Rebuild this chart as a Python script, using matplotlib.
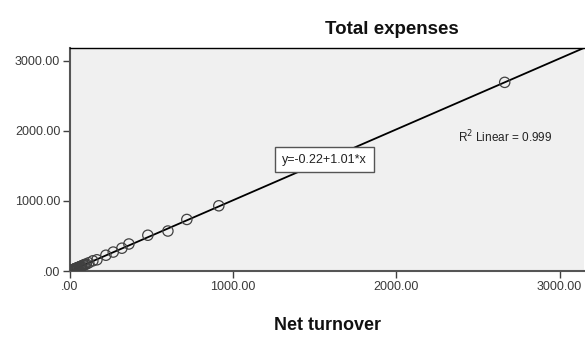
import matplotlib
matplotlib.use("Agg")
import matplotlib.pyplot as plt
import numpy as np

plt.rcParams['font.family'] = ['Liberation Sans', 'DejaVu Sans']

# Observed firms: net turnover vs total expenses
net_turnover = [3, 6, 9, 12, 15, 18, 22, 25, 28, 32, 35, 38, 42, 46, 50, 55, 60,
                65, 70, 78, 85, 92, 100, 115, 140, 165, 220, 265, 318, 361,
                477, 600, 716, 912, 2664]
total_expenses = [2, 7, 8, 13, 14, 19, 21, 26, 27, 33, 34, 39, 41, 47, 49, 56, 59,
                  66, 69, 80, 84, 94, 99, 117, 145, 160, 225, 270, 325, 385,
                  510, 570, 735, 930, 2690]

intercept = -0.22
slope = 1.01
r_squared = 0.999

x_ticks = [0, 1000, 2000, 3000]
y_ticks = [0, 1000, 2000, 3000]
x_max = 3150
y_max = 3180

fig = plt.figure(figsize=(5.85, 3.38), dpi=100)
ax = fig.add_axes([70/585, (338-271)/338, (584-70)/585, (271-48)/338])
ax.set_facecolor('#f0f0f0')

xs = np.array([0, x_max])
ax.plot(xs, intercept + slope*xs, color='black', lw=1.3, zorder=2)
ax.scatter(net_turnover, total_expenses, s=55, facecolors='none',
           edgecolors='#404040', linewidths=0.9, zorder=3)

ax.set_xlim(0, x_max)
ax.set_ylim(0, y_max)
ax.set_xticks(x_ticks)
ax.set_yticks(y_ticks)
fmt = lambda v: ('%.2f' % v).lstrip('0') if v == 0 else '%.2f' % v
ax.set_xticklabels([fmt(v) for v in x_ticks])
ax.set_yticklabels([fmt(v) for v in y_ticks])
ax.tick_params(axis='both', direction='out', length=5, width=1,
               color='#404040', labelsize=9, labelcolor='#3a3a3a', pad=2)

for s in ['left', 'bottom']:
    ax.spines[s].set_color('#555555')
    ax.spines[s].set_linewidth(1.5)
ax.spines['top'].set_color('black')
ax.spines['top'].set_linewidth(1.0)
ax.spines['right'].set_visible(False)

ax.text(1561, 1590, 'y=-0.22+1.01*x', fontsize=9, ha='center', va='center',
        color='#222222', zorder=5,
        bbox=dict(boxstyle='square,pad=0.55', fc='white', ec='#555555', lw=1))
ax.text(2376, 1914, r'R$^2$ Linear = 0.999', fontsize=8.5, ha='left',
        va='center', color='#222222')

fig.text(392/585, 1 - 29/338, 'Total expenses', fontsize=13.5, fontweight='bold',
         ha='center', va='center', color='#111111')
fig.text(328/585, 1 - 325/338, 'Net turnover', fontsize=13, fontweight='bold',
         ha='center', va='center', color='#111111')

fig.savefig('out.png', dpi=100)
